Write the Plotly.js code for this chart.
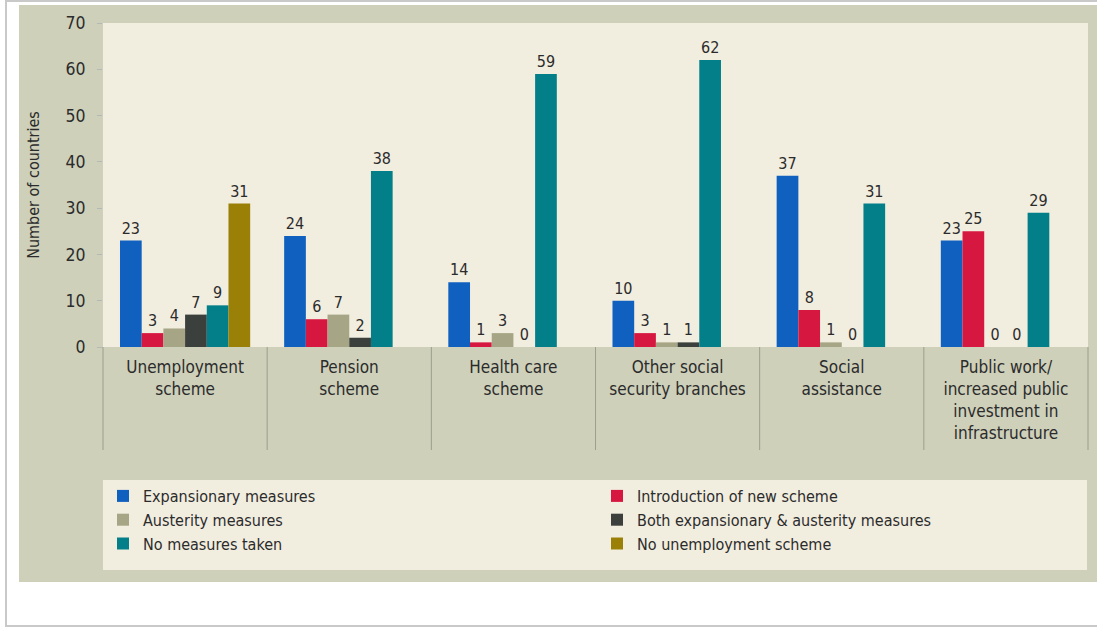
<!DOCTYPE html>
<html>
<head>
<meta charset="utf-8">
<script src="https://cdn.plot.ly/plotly-3.0.1.min.js"></script>
<style>
  html, body { margin: 0; padding: 0; background: #ffffff; }
  #chart { width: 1097px; height: 628px; }
</style>
</head>
<body>
<div id="chart"></div>
<script>
// ---- Data ----
const categories = [
  "Unemployment<br>scheme",
  "Pension<br>scheme",
  "Health care<br>scheme",
  "Other social<br>security branches",
  "Social<br>assistance",
  "Public work/<br>increased public<br>investment in<br>infrastructure"
];
const seriesNames = [
  "Expansionary measures",
  "Introduction of new scheme",
  "Austerity measures",
  "Both expansionary & austerity measures",
  "No measures taken",
  "No unemployment scheme"
];
const expansionary   = [23, 24, 14, 10, 37, 23];
const newScheme      = [3, 6, 1, 3, 8, 25];
const austerity      = [4, 7, 3, 1, 1, 0];
const bothMeasures   = [7, 2, 0, 1, 0, 0];
const noMeasures     = [9, 38, 59, 62, 31, 29];
const noUnemployment = [31, null, null, null, null, null];
const yTickValues    = [0, 10, 20, 30, 40, 50, 60, 70];

// ---- Styling ----
const colors = ["#1060C0", "#D6173F", "#A6A585", "#3C403C", "#027F89", "#9B8008"];
const legendOf = ["legend", "legend2", "legend", "legend2", "legend", "legend2"];
const FONT = "'DejaVu Sans Condensed', 'Liberation Sans Narrow', Arial, sans-serif";
const TXT = "#2b2b2b";

const W = 1097, H = 628;
const M = { l: 103, r: 9, t: 23, b: 281 };
const PW = W - M.l - M.r, PH = H - M.t - M.b;
const px = x => (x - M.l) / PW;          // pixel -> paper x
const py = y => (H - M.b - y) / PH;      // pixel -> paper y

const allSeries = [expansionary, newScheme, austerity, bothMeasures, noMeasures, noUnemployment];
const traces = allSeries.map((vals, i) => ({
  type: "bar",
  name: seriesNames[i],
  x: categories,
  y: vals,
  legend: legendOf[i],
  marker: { color: colors[i], line: { width: 0 } },
  text: vals.map(v => v === null ? "" : String(v)),
  textposition: "outside",
  textfont: { family: FONT, size: 16, color: TXT },
  constraintext: "none",
  cliponaxis: false,
  hoverinfo: "skip"
}));

const shapes = [];
// outer light border
shapes.push({ type: "rect", xref: "paper", yref: "paper", layer: "below",
  x0: px(6), x1: px(1110), y0: py(626), y1: py(1),
  line: { color: "#C9C9C9", width: 2 }, fillcolor: "#FFFFFF" });
// tan panel
shapes.push({ type: "rect", xref: "paper", yref: "paper", layer: "below",
  x0: px(19), x1: px(1097), y0: py(582), y1: py(5),
  line: { width: 0 }, fillcolor: "#CED0BA" });
// cream plot area
shapes.push({ type: "rect", xref: "paper", yref: "paper", layer: "below",
  x0: 0, x1: 1, y0: 0, y1: 1,
  line: { width: 0 }, fillcolor: "#F1EDDF" });
// cream legend area
shapes.push({ type: "rect", xref: "paper", yref: "paper", layer: "below",
  x0: px(103), x1: px(1087), y0: py(570), y1: py(480),
  line: { width: 0 }, fillcolor: "#F1EDDF" });
// category separators
for (let k = 0; k <= categories.length; k++) {
  shapes.push({ type: "line", xref: "paper", yref: "paper", layer: "below",
    x0: k / categories.length, x1: k / categories.length, y0: 0, y1: py(450),
    line: { color: "#9C9E8E", width: 1 } });
}

const layout = {
  width: W, height: H,
  margin: M,
  paper_bgcolor: "#FFFFFF",
  plot_bgcolor: "rgba(0,0,0,0)",
  barmode: "group",
  bargap: 0.207,
  bargroupgap: 0,
  showlegend: true,
  font: { family: FONT, color: TXT },
  xaxis: {
    type: "category",
    categoryorder: "array",
    categoryarray: categories,
    range: [-0.5, categories.length - 0.5],
    showgrid: false, zeroline: false, showline: false,
    ticks: "",
    ticklabelstandoff: 8,
    tickfont: { family: FONT, size: 17, color: TXT },
    fixedrange: true
  },
  yaxis: {
    range: [0, 70],
    tickvals: yTickValues,
    ticktext: yTickValues.map(String),
    showgrid: false, zeroline: false, showline: false,
    ticks: "outside", ticklen: 5, tickwidth: 1, tickcolor: "#B3B9B6",
    ticklabelstandoff: 8,
    tickfont: { family: FONT, size: 17.5, color: TXT },
    title: { text: "Number of countries", font: { family: FONT, size: 16, color: TXT }, standoff: 21 },
    fixedrange: true
  },
  legend: {
    x: px(103), xanchor: "left", y: py(479), yanchor: "top",
    orientation: "v", bgcolor: "rgba(0,0,0,0)", borderwidth: 0,
    font: { family: FONT, size: 16, color: TXT },
    traceorder: "normal"
  },
  legend2: {
    x: px(597), xanchor: "left", y: py(479), yanchor: "top",
    orientation: "v", bgcolor: "rgba(0,0,0,0)", borderwidth: 0,
    font: { family: FONT, size: 16, color: TXT },
    traceorder: "normal"
  },
  shapes: shapes
};

Plotly.newPlot("chart", traces, layout, { displayModeBar: false, staticPlot: true });
</script>
</body>
</html>
